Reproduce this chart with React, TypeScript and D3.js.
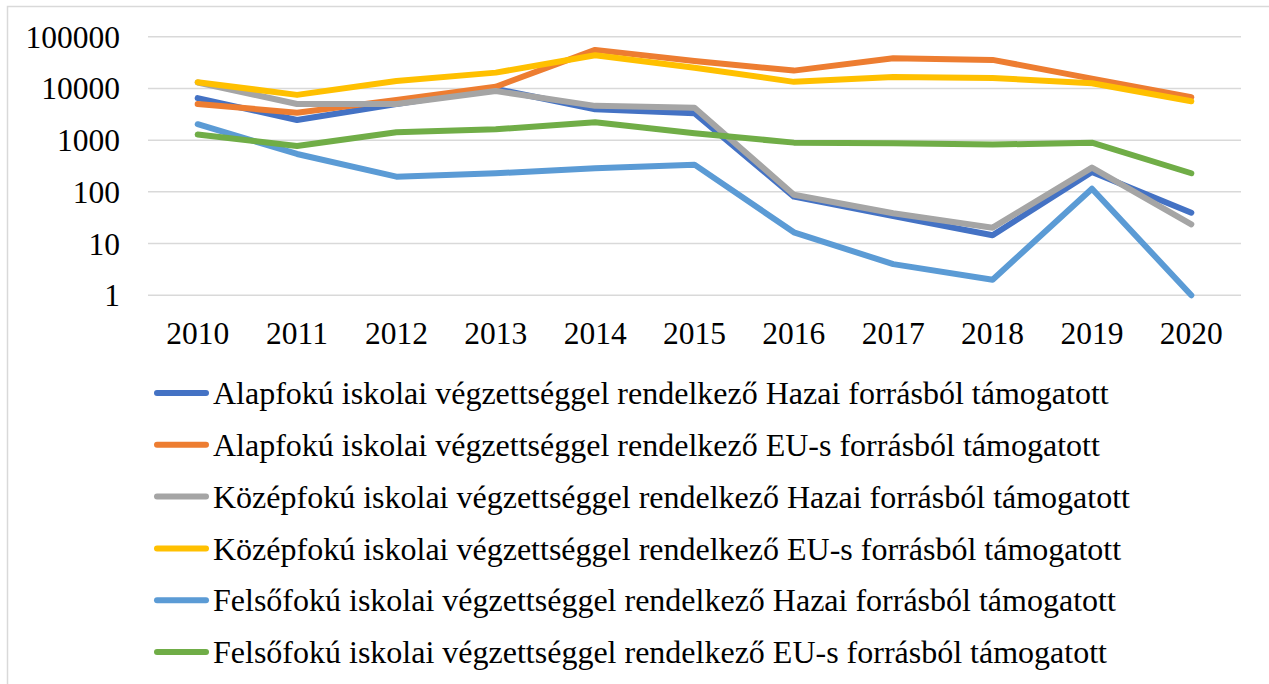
import React, { useEffect, useRef } from 'react';
import * as d3 from 'd3';

// years on the x axis
const years = ['2010', '2011', '2012', '2013', '2014', '2015', '2016', '2017', '2018', '2019', '2020'];

// series names (legend labels)
const seriesNames = [
  'Alapfokú iskolai végzettséggel rendelkező Hazai forrásból támogatott',
  'Alapfokú iskolai végzettséggel rendelkező EU-s forrásból támogatott',
  'Középfokú iskolai végzettséggel rendelkező Hazai forrásból támogatott',
  'Középfokú iskolai végzettséggel rendelkező EU-s forrásból támogatott',
  'Felsőfokú iskolai végzettséggel rendelkező Hazai forrásból támogatott',
  'Felsőfokú iskolai végzettséggel rendelkező EU-s forrásból támogatott',
];

const seriesColors = ['#4472C4', '#ED7D31', '#A5A5A5', '#FFC000', '#5B9BD5', '#70AD47'];

// values (log scale)
const alapHazai = [6500, 2450, 5000, 9800, 3950, 3300, 81, 34, 14.5, 243, 39.5];
const alapEu = [5000, 3400, 6000, 10800, 55600, 34000, 22100, 38400, 35600, 15500, 6750];
const kozepHazai = [13000, 5000, 5000, 8900, 4600, 4250, 88, 38.5, 20.3, 294, 23.6];
const kozepEu = [13200, 7500, 13900, 20200, 43800, 25200, 13400, 16700, 15900, 12600, 5650];
const felsoHazai = [2030, 540, 197, 229, 286, 336, 16.5, 4, 2, 115, 1];
const felsoEu = [1280, 770, 1420, 1620, 2220, 1360, 895, 870, 820, 895, 229];

const yTicks = [1, 10, 100, 1000, 10000, 100000];

const App = () => {
  const svgRef = useRef<SVGSVGElement>(null);

  const W = 1269;
  const H = 684;

  useEffect(() => {
    const svg = d3.select(svgRef.current);
    svg.selectAll('*').remove();

    const allSeries = [alapHazai, alapEu, kozepHazai, kozepEu, felsoHazai, felsoEu];
    const font = "'Liberation Serif', 'DejaVu Serif', serif";

    // outer chart border
    svg.append('rect')
      .attr('x', 7.5).attr('y', 6.5)
      .attr('width', W + 10).attr('height', H + 10)
      .attr('fill', 'white')
      .attr('stroke', '#D9D9D9')
      .attr('stroke-width', 1.5);

    const xScale = d3.scaleBand().domain(years).range([148, 1241]).padding(0);
    const yScale = d3.scaleLog().domain([1, 100000]).range([295.3, 36.7]);

    // gridlines
    svg.append('g')
      .selectAll('line')
      .data(yTicks)
      .enter()
      .append('line')
      .attr('x1', 148).attr('x2', 1241)
      .attr('y1', (d) => yScale(d)).attr('y2', (d) => yScale(d))
      .attr('stroke', '#D9D9D9')
      .attr('stroke-width', 1.5);

    // y labels
    svg.append('g')
      .selectAll('text')
      .data(yTicks)
      .enter()
      .append('text')
      .attr('x', 120)
      .attr('y', (d) => yScale(d))
      .attr('dy', '0.35em')
      .attr('text-anchor', 'end')
      .style('font-family', font)
      .style('font-size', '31.5px')
      .attr('fill', '#000')
      .text((d) => String(d));

    // x labels
    svg.append('g')
      .selectAll('text')
      .data(years)
      .enter()
      .append('text')
      .attr('x', (d) => (xScale(d) as number) + xScale.bandwidth() / 2)
      .attr('y', 333)
      .attr('dy', '0.35em')
      .attr('text-anchor', 'middle')
      .style('font-family', font)
      .style('font-size', '31.5px')
      .attr('fill', '#000')
      .text((d) => d);

    // lines
    const line = d3.line<number>()
      .x((_, i) => (xScale(years[i]) as number) + xScale.bandwidth() / 2)
      .y((d) => yScale(d));

    allSeries.forEach((values, i) => {
      svg.append('path')
        .datum(values)
        .attr('d', line)
        .attr('fill', 'none')
        .attr('stroke', seriesColors[i])
        .attr('stroke-width', 6)
        .attr('stroke-linejoin', 'round')
        .attr('stroke-linecap', 'round');
    });

    // legend
    const legend = svg.append('g')
      .selectAll('g')
      .data(seriesNames)
      .enter()
      .append('g')
      .attr('transform', (_, i) => `translate(0,${393 + i * 51.8})`);

    legend.append('line')
      .attr('x1', 157).attr('x2', 206)
      .attr('y1', 0).attr('y2', 0)
      .attr('stroke', (_, i) => seriesColors[i])
      .attr('stroke-width', 6)
      .attr('stroke-linecap', 'round');

    legend.append('text')
      .attr('x', 213)
      .attr('y', 0)
      .attr('dy', '0.35em')
      .style('font-family', font)
      .style('font-size', '32px')
      .attr('fill', '#000')
      .text((d) => d);
  }, []);

  return (
    <svg
      ref={svgRef}
      width={W}
      height={H}
      style={{ position: 'absolute', left: 0, top: 0, display: 'block' }}
    ></svg>
  );
};

export default App;
